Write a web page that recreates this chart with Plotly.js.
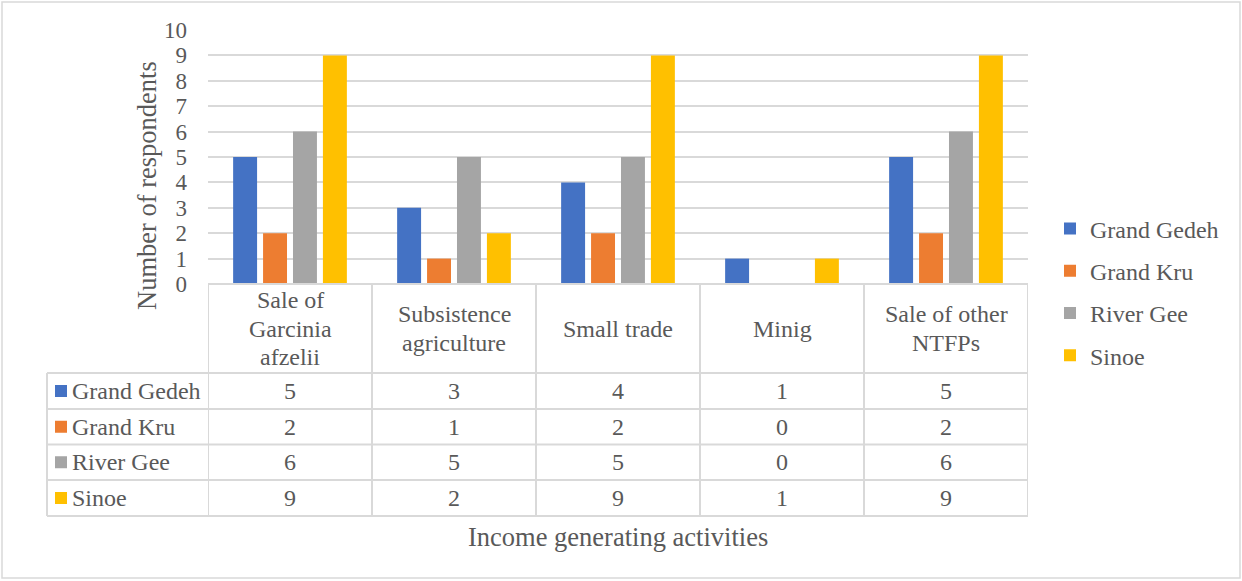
<!DOCTYPE html>
<html>
<head>
<meta charset="utf-8">
<script src="https://cdn.plot.ly/plotly-3.0.1.min.js"></script>
<style>html,body{margin:0;padding:0;background:#fff;}#chart{width:1242px;height:581px;}</style>
</head>
<body>
<div id="chart"></div>
<script>
// ---- data ----
const categories = ["Sale of Garcinia afzelii", "Subsistence agriculture", "Small trade", "Minig", "Sale of other NTFPs"];
const categoryLabels = ["Sale of<br>Garcinia<br>afzelii", "Subsistence<br>agriculture", "Small trade", "Minig", "Sale of other<br>NTFPs"];
const seriesNames = ["Grand Gedeh", "Grand Kru", "River Gee", "Sinoe"];
const grandGedeh = [5, 3, 4, 1, 5];
const grandKru = [2, 1, 2, 0, 2];
const riverGee = [6, 5, 5, 0, 6];
const sinoe = [9, 2, 9, 1, 9];
const seriesValues = [grandGedeh, grandKru, riverGee, sinoe];
const colors = ["#4472C4", "#ED7D31", "#A5A5A5", "#FFC000"];
const yTitle = "Number of respondents";
const xTitle = "Income generating activities";

// ---- layout helpers (pixel -> paper) ----
const W = 1242, H = 581;
const L = 208, R = 1028, T = 30, B = 284;
const px2x = p => (p - L) / (R - L);
const py2y = p => (B - p) / (B - T);
const FONT = "Liberation Serif";
const TXT = "#595959";
const GRID = "#d9d9d9";
const TS = 24;

const traces = seriesNames.map((name, i) => ({
  type: "bar",
  name: name,
  x: categories,
  y: seriesValues[i],
  marker: {color: colors[i]},
  legendgroup: "g" + i,
  hoverinfo: "x+y+name"
}));

const shapes = [];
const annotations = [];
const line = {color: GRID, width: 2};

// outer border
shapes.push({type: "rect", xref: "paper", yref: "paper", x0: px2x(2), x1: px2x(1240), y0: py2y(2), y1: py2y(578), line: {color: GRID, width: 1.5}});

// table geometry
const rowLines = [373, 409, 444.5, 480, 516];
const tableLeft = 47;
shapes.push({type: "line", xref: "paper", yref: "paper", x0: 0, x1: 1, y0: py2y(B), y1: py2y(B), line: line});
rowLines.forEach(r => shapes.push({type: "line", xref: "paper", yref: "paper", x0: px2x(tableLeft), x1: 1, y0: py2y(r), y1: py2y(r), line: line}));
for (let i = 0; i <= categories.length; i++) {
  shapes.push({type: "line", xref: "x", yref: "paper", x0: i - 0.5, x1: i - 0.5, y0: py2y(B), y1: py2y(516), line: line});
}
shapes.push({type: "line", xref: "paper", yref: "paper", x0: px2x(tableLeft), x1: px2x(tableLeft), y0: py2y(373), y1: py2y(516), line: line});

// header labels (split lines)
const headerCenter = 328.5, lineGap = 28.5;
categoryLabels.forEach((lab, i) => {
  const lines = lab.split("<br>");
  lines.forEach((ln, j) => {
    const cy = headerCenter + (j - (lines.length - 1) / 2) * lineGap;
    annotations.push({xref: "x", yref: "paper", x: categories[i], y: py2y(cy), text: ln, showarrow: false,
      xanchor: "center", yanchor: "middle", font: {family: FONT, size: TS, color: TXT}});
  });
});

// data rows
seriesNames.forEach((name, s) => {
  const cy = (rowLines[s] + rowLines[s + 1]) / 2;
  shapes.push({type: "rect", xref: "paper", yref: "paper", x0: px2x(55), x1: px2x(67), y0: py2y(cy - 6), y1: py2y(cy + 6), fillcolor: colors[s], line: {width: 0}});
  annotations.push({xref: "paper", yref: "paper", x: px2x(70), y: py2y(cy), text: name, showarrow: false,
    xanchor: "left", yanchor: "middle", font: {family: FONT, size: TS, color: TXT}});
  seriesValues[s].forEach((v, i) => {
    annotations.push({xref: "x", yref: "paper", x: categories[i], y: py2y(cy), text: String(v), showarrow: false,
      xanchor: "center", yanchor: "middle", font: {family: FONT, size: TS, color: TXT}});
  });
});

// axis titles
annotations.push({xref: "paper", yref: "paper", x: px2x(147), y: py2y(186), text: yTitle, textangle: -90, showarrow: false,
  xanchor: "center", yanchor: "middle", font: {family: FONT, size: 26.5, color: TXT}});
annotations.push({xref: "paper", yref: "paper", x: px2x(618), y: py2y(537), text: xTitle, showarrow: false,
  xanchor: "center", yanchor: "middle", font: {family: FONT, size: 26.5, color: TXT}});

const layout = {
  width: W, height: H,
  margin: {l: L, r: W - R, t: T, b: H - B, pad: 0},
  paper_bgcolor: "#ffffff", plot_bgcolor: "#ffffff",
  font: {family: FONT, color: TXT, size: TS},
  barmode: "group", bargap: 0.27, bargroupgap: 0.2,
  xaxis: {type: "category", range: [-0.5, 4.5], showticklabels: false, showgrid: false, zeroline: false, showline: false, ticks: "", fixedrange: true},
  yaxis: {range: [0, 10], dtick: 1, tick0: 0, showgrid: true, gridcolor: GRID, gridwidth: 2, zeroline: false, showline: false,
    ticks: "", ticklabelstandoff: 20, tickfont: {family: FONT, size: 23, color: TXT}, fixedrange: true},
  showlegend: true,
  legend: {x: px2x(1050), xanchor: "left", y: py2y(292), yanchor: "middle", tracegroupgap: 8,
    font: {family: FONT, size: TS, color: TXT}, bgcolor: "rgba(0,0,0,0)", itemclick: false, itemdoubleclick: false},
  shapes: shapes,
  annotations: annotations
};

Plotly.newPlot("chart", traces, layout, {displayModeBar: false, staticPlot: true});
</script>
</body>
</html>
